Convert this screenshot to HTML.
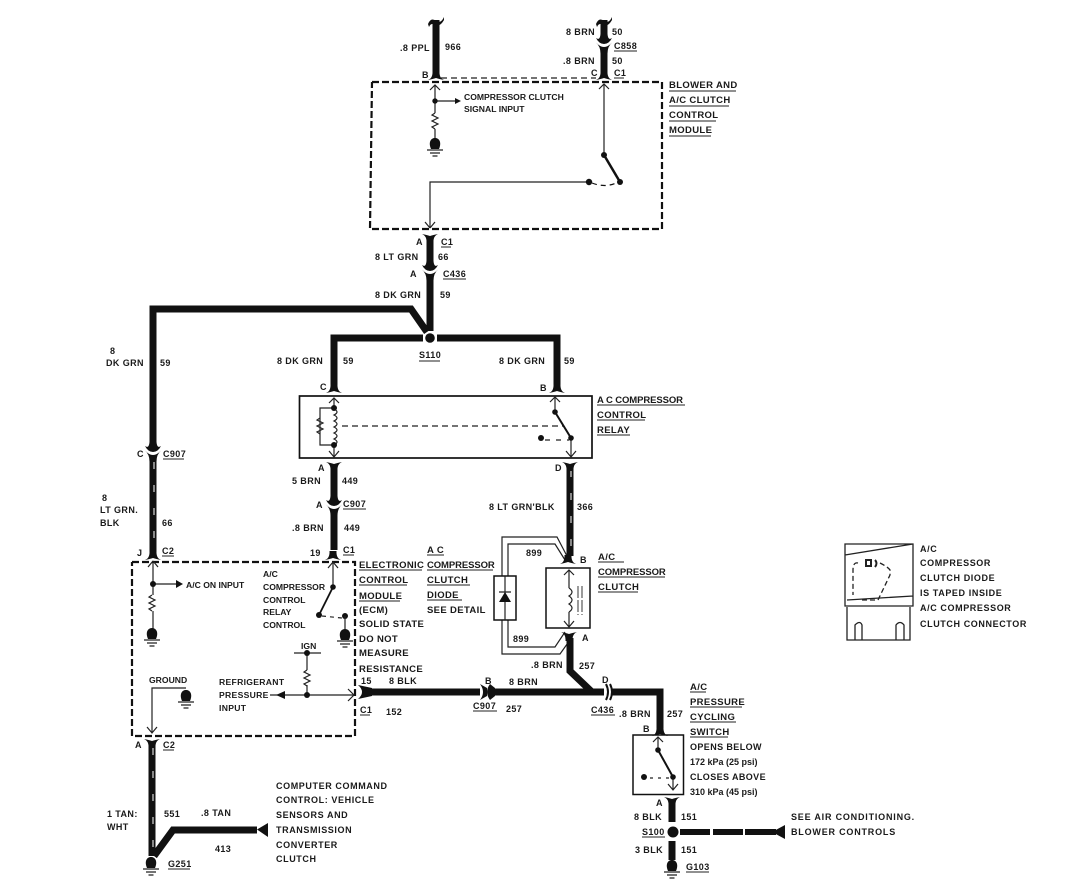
<!DOCTYPE html>
<html><head><meta charset="utf-8"><style>
html,body{margin:0;padding:0;background:#fff}
svg{display:block}
text{font-family:"Liberation Sans",sans-serif;font-weight:bold;fill:#1a1a1a;font-size:9px;letter-spacing:.4px}
.s{font-size:8.6px;letter-spacing:0}
.l{font-size:9.5px;letter-spacing:.35px}
.c{font-size:9.5px;letter-spacing:-.1px}
.x{font-size:9px;letter-spacing:.6px}
.y{font-size:9px;letter-spacing:.8px}
.r{font-size:8.6px;letter-spacing:.3px}
.w{fill:none;stroke:#111;stroke-width:7;stroke-linejoin:miter}
.t{fill:none;stroke:#222;stroke-width:1.2}
.d{fill:none;stroke:#111;stroke-width:2.2;stroke-dasharray:7 3}
.f{fill:none;stroke:#222;stroke-width:1.2;stroke-dasharray:6 4}
.u{fill:none;stroke:#222;stroke-width:1}
.st{fill:none;stroke:#fff;stroke-width:1;stroke-dasharray:7 16}
</style></head><body>
<svg width="1067" height="892" viewBox="0 0 1067 892" xmlns="http://www.w3.org/2000/svg">
<defs>
<path id="fl" d="M-8,1 Q-3,-1 -3.500,-8 L3.500,-8 Q3,-1 8,1 Q3,0 0,-1 Q-3,0 -8,1Z" fill="#111"/>
<path id="cv" d="M-8,-4 Q-4,-1 -3.500,-8 L3.500,-8 Q4,-1 8,-4 Q5,2 0,2 Q-5,2 -8,-4Z" fill="#111"/>
<path id="yy" d="M-8,-3 Q-3.500,1 -3.500,8 L3.500,8 Q3.500,1 8,-3 Q4,1.500 0,1.500 Q-4,1.500 -8,-3Z" fill="#111"/>
<path id="ar" d="M-5,5 L0,0 L5,5" fill="none" stroke="#222" stroke-width="1.2"/>
<g id="gnd"><path d="M-4,5 C-7,-2 -4,-6 0,-6 C4,-6 7,-2 4,5Z" fill="#111"/><path d="M-8,6H8M-5,9H5M-2.500,12H2.500" stroke="#222" stroke-width="1.300" fill="none"/></g>
<path id="res" d="M0,0 L-3,2 L3,5 L-3,8 L3,11 L-3,14 L0,16" fill="none" stroke="#222" stroke-width="1.2"/>
</defs>

<!-- top module -->
<path class="d" d="M372,82H662V229H370L372,82"/>
<path class="f" d="M441,78H596"/>
<path class="w" d="M436,20V74"/>
<path class="w" d="M604,20V40M604,50V74"/>
<path d="M428,24Q431,17 436,21Q441,24 444,17L444,20Q440,27 436,25Q431,22 429,27Z" fill="#111"/>
<path d="M596,24Q599,17 604,21Q609,24 612,17L612,20Q608,27 604,25Q599,22 597,27Z" fill="#111"/>
<use href="#fl" x="436" y="79"/><use href="#fl" x="604" y="79"/>
<use href="#cv" x="604" y="42"/><use href="#yy" x="604" y="45.500"/>
<use href="#ar" x="435" y="85"/><use href="#ar" x="604" y="84"/>
<path class="t" d="M435,85V113M435,129V140M435,101H456"/>
<use href="#res" x="435" y="113"/>
<circle cx="435" cy="101" r="2.700" fill="#111"/>
<path d="M455,98L461,101L455,104Z" fill="#111"/>
<use href="#gnd" x="435" y="144"/>
<path class="t" d="M604,84V155M589,182H430V227"/>
<path d="M430,228L425,222M430,228L435,222" class="t"/>
<circle cx="604" cy="155" r="3" fill="#111"/><circle cx="620" cy="182" r="3" fill="#111"/><circle cx="589" cy="182" r="3.200" fill="#111"/>
<path d="M604,155L620,182" stroke="#111" stroke-width="2.500"/>
<path d="M592,183Q605,188 616,183" fill="none" stroke="#111" stroke-width="1.200" stroke-dasharray="5 4"/>

<!-- mid wires -->
<path class="w" d="M430,238V267M430,278V331"/>
<use href="#fl" transform="translate(430,235) scale(1,-1)"/>
<use href="#cv" x="430" y="269"/><use href="#yy" x="430" y="272.500"/>
<path class="w" d="M427,332L411,309H153V449"/>
<path class="w" d="M334,384V338H423M437,338H557V384"/>
<circle cx="430" cy="338" r="4.800" fill="#111"/>
<use href="#fl" x="334" y="392"/><use href="#fl" x="557" y="392"/>
<use href="#cv" x="153" y="450"/><use href="#yy" x="153" y="453.500"/>

<!-- relay -->
<rect x="299.500" y="396" width="292.500" height="62" fill="none" stroke="#111" stroke-width="1.700"/>
<use href="#ar" x="334" y="398"/>
<path class="t" d="M334,398V408M334,445V456M334,408H320V445H334"/>
<path d="M334,409q6,3 0,6q6,3 0,6q6,3 0,6q6,3 0,6q6,3 0,6q6,3 0,6" fill="none" stroke="#222" stroke-width="1.200"/>
<path d="M320,418l-3,2l6,3l-6,3l6,3l-6,3l3,2" fill="none" stroke="#222" stroke-width="1.200"/>
<circle cx="334" cy="408" r="3" fill="#111"/><circle cx="334" cy="445" r="3" fill="#111"/>
<path d="M329,451l5,6l5,-6" class="t"/>
<path class="f" d="M342,426H563"/>
<use href="#ar" x="555" y="397"/>
<path class="t" d="M555,397V412M571,438V456"/>
<circle cx="555" cy="412" r="2.800" fill="#111"/><circle cx="571" cy="438" r="2.800" fill="#111"/><circle cx="541" cy="438" r="3" fill="#111"/>
<path d="M555,412L571,438" stroke="#111" stroke-width="2"/>
<path d="M545,440H569" class="f" style="stroke-dasharray:5 6"/>
<path d="M566,451l5,6l5,-6" class="t"/>

<!-- wires below relay -->
<path class="w" d="M334,468V503M334,513V550"/>
<use href="#fl" transform="translate(334,463) scale(1,-1)"/>
<use href="#cv" x="334" y="504"/><use href="#yy" x="334" y="507.500"/>
<use href="#fl" x="333" y="559"/>
<path class="w" d="M570,468V556"/>
<path class="st" d="M571,470V556"/>
<use href="#fl" transform="translate(570,463) scale(1,-1)"/>
<path class="w" d="M153,460V552"/>
<path class="st" d="M154,462V552"/>
<use href="#fl" x="153" y="559"/>

<!-- diode and clutch -->
<path class="t" d="M502,576V537H557L568,558M508,576V544H555L565,560M502,620V654H560L570,640M508,620V647H555L565,632"/>
<rect x="494" y="576" width="22" height="44" fill="none" stroke="#111" stroke-width="1.500"/>
<path class="t" d="M505,576V620M499,592H511"/>
<path d="M499,602L505,592L511,602Z" fill="#111"/>
<use href="#fl" x="568" y="563"/>
<rect x="546" y="568" width="44" height="60" fill="none" stroke="#111" stroke-width="1.500"/>
<use href="#ar" x="569" y="570"/>
<path class="t" d="M569,570V588M569,612V627M564,621l5,6l5,-6"/>
<path d="M569,588q6,4 0,8q6,4 0,8q6,4 0,8" fill="none" stroke="#222" stroke-width="1.200"/>
<path d="M578,586V615M582,586V615" class="f" style="stroke-width:.9;stroke-dasharray:12 2"/>
<use href="#fl" transform="translate(569,633) scale(1,-1)"/>
<path class="w" d="M570,638V671L592,692"/>
<path class="w" d="M362,692H480M490,692H604M612,692H660V728"/>
<path d="M358,685Q366,692 358,699L372,696V688Z" fill="#111"/>
<path d="M480,684Q486,692 480,700L487,696V688Z" fill="#111"/>
<path d="M490,684Q484,692 490,700L495,696V688Z" fill="#111"/>
<path d="M606,684Q610,692 606,700" fill="none" stroke="#111" stroke-width="2"/>
<path d="M610,684Q614,692 610,700" fill="none" stroke="#111" stroke-width="2"/>
<use href="#fl" x="660" y="735"/>

<!-- ECM -->
<path class="d" d="M132,562H355V736H132V562"/>
<path d="M153,561l-5,6M153,561l5,6" class="t"/>
<path class="t" d="M153,563V595M153,611V632M153,584H176"/>
<circle cx="153" cy="584" r="3" fill="#111"/>
<path d="M176,580L183,584L176,588Z" fill="#111"/>
<use href="#res" x="152" y="595"/>
<use href="#gnd" x="152" y="634"/>
<path class="t" d="M333,563V587"/><path d="M328,568l5,-6l5,6" class="t"/>
<circle cx="333" cy="587" r="2.800" fill="#111"/><circle cx="319" cy="615" r="3" fill="#111"/><circle cx="345" cy="616" r="3" fill="#111"/>
<path d="M333,587L319,615" stroke="#111" stroke-width="1.800"/>
<path d="M322,616L342,618" class="f" style="stroke-dasharray:4 4"/>
<path class="t" d="M345,616V630"/>
<use href="#gnd" x="345" y="635"/>
<path class="t" d="M294,653H321M307,653V670M307,685V695M270,695H354M348,689l6,6l-6,6"/>
<use href="#res" x="307" y="670"/>
<circle cx="307" cy="653" r="3" fill="#111"/><circle cx="307" cy="695" r="3" fill="#111"/>
<path d="M285,691L285,699L276,695Z" fill="#111"/>
<use href="#gnd" x="186" y="696"/>
<path class="t" d="M186,688H152V733M147,727l5,6l5,-6"/>
<use href="#fl" transform="translate(152,740) scale(1,-1)"/>

<!-- bottom left -->
<path class="w" d="M152,746V856"/>
<path class="st" d="M153,748V852"/>
<path class="w" d="M154,856L173,830H257"/>
<path d="M257,829.500L268,823V837Z" fill="#111"/>
<use href="#gnd" x="151" y="863"/>

<!-- pressure switch -->
<rect x="633" y="735" width="50.500" height="59.500" fill="none" stroke="#111" stroke-width="1.500"/>
<use href="#ar" x="658" y="737"/>
<path class="t" d="M658,737V750M673,777V790M668,784l5,6l5,-6"/>
<circle cx="658" cy="750" r="2.800" fill="#111"/><circle cx="673" cy="777" r="2.800" fill="#111"/><circle cx="644" cy="777" r="3" fill="#111"/>
<path d="M658,750L673,777" stroke="#111" stroke-width="2"/>
<path d="M650,778H669" class="f" style="stroke-dasharray:3 5"/>
<use href="#fl" transform="translate(672,798) scale(1,-1)"/>
<path class="w" d="M672,802V822M672,841V860"/>
<circle cx="673" cy="832" r="5.500" fill="#111"/>
<path d="M680,832H710M713,832H743M745,832H776" stroke="#111" stroke-width="6" fill="none"/>
<path d="M772,832L785,825V839Z" fill="#111"/>
<use href="#gnd" x="672" y="866"/>

<!-- detail -->
<g fill="none" stroke="#222" stroke-width="1.300">
<path d="M845,544H913V606H845ZM845,555L913,544M847,600L913,596"/>
<path d="M847,607V640H910V607M855,640V625Q860,620 862,625V640M896,640V625Q900,620 904,625V640"/>
<path d="M858,563Q853,562 853,570V595M880,563Q888,567 890,570V575L878,600H860" stroke-dasharray="5 3"/>
<path d="M866,560h5v6h-5zM875,560q3,3 0,7" stroke-width="2"/>
</g>

<!-- underlines -->
<path class="u" d="M614,51H637M614,78H624M669,91H736M669,106H729M669,121H716M669,136H711M441,247H451M443,279H466M163,459H184M162,556H174M343,509H366M343,555H354M419,361H440M597,405H685M597,420H645M597,435H630M598,562H624M598,577H665M598,592H638M427,555H444M427,570H493M427,585H470M427,600H462M359,570H422M359,585H407M359,601H400M360,715H370M473,711H497M591,715H615M163,750H174M168,869H190M690,692H706M690,707H742M690,722H736M690,737H728M642,837H665M686,872H709"/>

<!-- labels -->
<text x="400" y="51">.8 PPL</text><text x="445" y="50">966</text><text x="422" y="78">B</text>
<text x="566" y="35">8 BRN</text><text x="612" y="35">50</text><text x="614" y="49">C858</text>
<text x="563" y="64">.8 BRN</text><text x="612" y="64">50</text><text x="591" y="76">C</text><text x="614" y="76">C1</text>
<text class="l" x="669" y="88">BLOWER AND</text><text class="l" x="669" y="103">A/C CLUTCH</text><text class="l" x="669" y="118">CONTROL</text><text class="l" x="669" y="133">MODULE</text>
<text class="s" x="464" y="100">COMPRESSOR CLUTCH</text><text class="s" x="464" y="112">SIGNAL INPUT</text>
<text x="416" y="245">A</text><text x="441" y="245">C1</text><text x="375" y="260">8 LT GRN</text><text x="438" y="260">66</text>
<text x="410" y="277">A</text><text x="443" y="277">C436</text><text x="375" y="298">8 DK GRN</text><text x="440" y="298">59</text>
<text x="110" y="354">8</text><text x="106" y="366">DK GRN</text><text x="160" y="366">59</text>
<text x="277" y="364">8 DK GRN</text><text x="343" y="364">59</text><text x="320" y="390">C</text>
<text x="137" y="457">C</text><text x="163" y="457">C907</text>
<text x="102" y="501">8</text><text x="100" y="513">LT GRN.</text><text x="100" y="526">BLK</text><text x="162" y="526">66</text>
<text x="137" y="556">J</text><text x="162" y="554">C2</text>
<text x="318" y="471">A</text><text x="292" y="484">5 BRN</text><text x="342" y="484">449</text>
<text x="316" y="508">A</text><text x="343" y="507">C907</text><text x="292" y="531">.8 BRN</text><text x="344" y="531">449</text>
<text x="310" y="556">19</text><text x="343" y="553">C1</text>
<text x="419" y="358">S110</text><text x="499" y="364">8 DK GRN</text><text x="564" y="364">59</text><text x="540" y="391">B</text>
<text class="c" x="597" y="403">A C COMPRESSOR</text><text class="l" x="597" y="418">CONTROL</text><text class="l" x="597" y="433">RELAY</text>
<text x="555" y="471">D</text><text x="489" y="510">8 LT GRN'BLK</text><text x="577" y="510">366</text>
<text x="526" y="556">899</text><text x="580" y="563">B</text>
<text class="l" x="598" y="560">A/C</text><text class="c" x="598" y="575">COMPRESSOR</text><text class="l" x="598" y="590">CLUTCH</text>
<text x="513" y="642">899</text><text x="582" y="641">A</text><text x="531" y="668">.8 BRN</text><text x="579" y="669">257</text>
<text x="485" y="684">B</text><text x="509" y="685">8 BRN</text><text x="473" y="709">C907</text><text x="506" y="712">257</text>
<text x="602" y="683">D</text><text x="591" y="713">C436</text><text x="619" y="717">.8 BRN</text><text x="667" y="717">257</text>
<text class="l" x="427" y="553">A C</text><text class="c" x="427" y="568">COMPRESSOR</text><text class="l" x="427" y="583">CLUTCH</text><text class="l" x="427" y="598">DIODE</text><text class="l" x="427" y="613">SEE DETAIL</text>
<text class="l" x="359" y="568">ELECTRONIC</text><text class="l" x="359" y="583">CONTROL</text><text class="l" x="359" y="599">MODULE</text><text class="l" x="359" y="613">(ECM)</text><text class="l" x="359" y="627">SOLID STATE</text><text class="l" x="359" y="642">DO NOT</text><text class="l" x="359" y="656">MEASURE</text><text class="l" x="359" y="672">RESISTANCE</text>
<text x="361" y="684">15</text><text x="389" y="684">8 BLK</text><text x="360" y="713">C1</text><text x="386" y="715">152</text>
<text class="s" x="186" y="588">A/C ON INPUT</text>
<text class="s" x="263" y="577">A/C</text><text class="s" x="263" y="590">COMPRESSOR</text><text class="s" x="263" y="603">CONTROL</text><text class="s" x="263" y="615">RELAY</text><text class="s" x="263" y="628">CONTROL</text>
<text class="s" x="301" y="649">IGN</text><text class="s" x="149" y="683">GROUND</text>
<text class="r" x="219" y="685">REFRIGERANT</text><text class="r" x="219" y="698">PRESSURE</text><text class="r" x="219" y="711">INPUT</text>
<text x="135" y="748">A</text><text x="163" y="748">C2</text>
<text x="107" y="817">1 TAN:</text><text x="107" y="830">WHT</text><text x="164" y="817">551</text><text x="201" y="816">.8 TAN</text><text x="215" y="852">413</text><text x="168" y="867">G251</text>
<text class="x" x="276" y="789">COMPUTER COMMAND</text><text class="x" x="276" y="803">CONTROL: VEHICLE</text><text class="x" x="276" y="818">SENSORS AND</text><text class="x" x="276" y="833">TRANSMISSION</text><text class="x" x="276" y="848">CONVERTER</text><text class="x" x="276" y="862">CLUTCH</text>
<text class="l" x="690" y="690">A/C</text><text class="l" x="690" y="705">PRESSURE</text><text class="l" x="690" y="720">CYCLING</text><text class="l" x="690" y="735">SWITCH</text>
<text x="690" y="750">OPENS BELOW</text><text x="690" y="765" class="s" style="font-size:9px">172 kPa (25 psi)</text><text x="690" y="780">CLOSES ABOVE</text><text x="690" y="795" class="s" style="font-size:9px">310 kPa (45 psi)</text>
<text x="643" y="732">B</text><text x="656" y="806">A</text><text x="634" y="820">8 BLK</text><text x="681" y="820">151</text><text x="642" y="835">S100</text>
<text x="635" y="853">3 BLK</text><text x="681" y="853">151</text><text x="686" y="870">G103</text>
<text class="y" x="791" y="820">SEE AIR CONDITIONING.</text><text class="y" x="791" y="835">BLOWER CONTROLS</text>
<text class="x" x="920" y="552">A/C</text><text class="x" x="920" y="566">COMPRESSOR</text><text class="x" x="920" y="581">CLUTCH DIODE</text><text class="x" x="920" y="596">IS TAPED INSIDE</text><text class="x" x="920" y="611">A/C COMPRESSOR</text><text class="x" x="920" y="627">CLUTCH CONNECTOR</text>
</svg>
</body></html>
